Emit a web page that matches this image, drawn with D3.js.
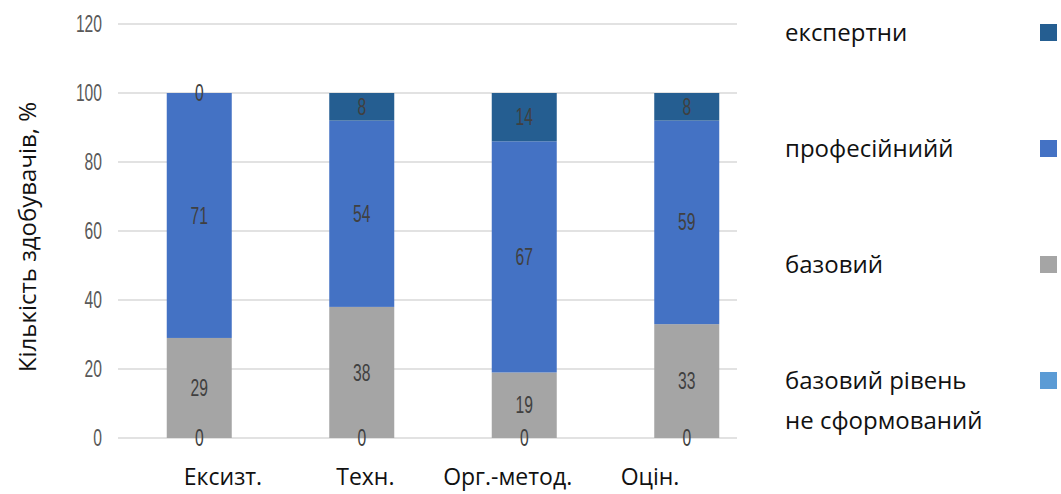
<!DOCTYPE html>
<html>
<head>
<meta charset="utf-8">
<script src="https://cdn.jsdelivr.net/npm/d3@7"></script>
<style>
  html, body { margin: 0; padding: 0; background: #fff; }
  svg { display: block; }
</style>
</head>
<body>
<svg id="chart" width="1061" height="494"></svg>
<script>
// Рівні сформованості компетентності за компонентами, %
const categories = ["Ексизт.", "Техн.", "Орг.-метод.", "Оцін."];
const notFormed    = [0, 0, 0, 0];     // базовий рівень не сформований
const basic        = [29, 38, 19, 33]; // базовий
const professional = [71, 54, 67, 59]; // професійнийй
const expert       = [0, 8, 14, 8];    // експертни
const yTicks = [0, 20, 40, 60, 80, 100, 120];

const series = [
  { key: "notFormed",    name: ["базовий рівень", "не сформований"], values: notFormed,    color: "#5b9bd5" },
  { key: "basic",        name: ["базовий"],                         values: basic,        color: "#a5a5a5" },
  { key: "professional", name: ["професійнийй"],                    values: professional, color: "#4472c4" },
  { key: "expert",       name: ["експертни"],                       values: expert,       color: "#255e91" }
];

const rows = categories.map((c, i) => {
  const r = { category: c };
  series.forEach(s => { r[s.key] = s.values[i]; });
  return r;
});

const stacked = d3.stack().keys(series.map(s => s.key))(rows);

const svg = d3.select("#chart");

const x = d3.scaleBand().domain(categories).range([118, 768]).paddingInner(0.6).paddingOuter(0.3);
const y = d3.scaleLinear().domain([0, 120]).range([438, 24]);
// category captions sit on their own evenly spaced row below the plot
const xLabel = d3.scalePoint().domain(categories).range([223, 650]);

// numbers use a condensed look: regular face squeezed horizontally
const numFont = "'Liberation Sans', Arial, sans-serif";
const numSqueeze = "scale(0.68,1)";
const textFont = "'Open Sans', 'Noto Sans', sans-serif";

// gridlines + tick labels
const yAxis = d3.axisLeft(y).tickValues(yTicks).tickSize(0).tickPadding(0).tickFormat(d3.format("d"));
const gy = svg.append("g").attr("transform", "translate(102,0)").call(yAxis);
gy.select(".domain").remove();
gy.selectAll(".tick text")
  .attr("x", 0)
  .attr("transform", numSqueeze)
  .attr("font-family", numFont).attr("font-size", 23).attr("fill", "#595959");

svg.append("g").selectAll("line").data(yTicks).join("line")
  .attr("x1", 118).attr("x2", 737)
  .attr("y1", d => y(d)).attr("y2", d => y(d))
  .attr("stroke", "#d9d9d9").attr("stroke-width", 1.5);

// stacked bars
const layers = svg.append("g").selectAll("g").data(stacked).join("g")
  .attr("fill", (d, i) => series[i].color);
layers.selectAll("rect").data(d => d).join("rect")
  .attr("x", d => x(d.data.category))
  .attr("width", x.bandwidth())
  .attr("y", d => y(d[1]))
  .attr("height", d => y(d[0]) - y(d[1]));

// value labels in the middle of each segment
const labels = svg.append("g");
stacked.forEach(layer => {
  labels.selectAll(null).data(layer).join("g")
    .attr("transform", d => `translate(${x(d.data.category) + x.bandwidth() / 2},${y((d[0] + d[1]) / 2)})`)
    .append("text")
    .attr("transform", numSqueeze)
    .attr("dy", "0.35em")
    .attr("text-anchor", "middle")
    .attr("font-family", numFont).attr("font-size", 23).attr("fill", "#404040")
    .text(d => d[1] - d[0]);
});

// category captions
svg.append("g").selectAll("text").data(categories).join("text")
  .attr("x", d => xLabel(d)).attr("y", 485)
  .attr("text-anchor", "middle")
  .attr("font-family", textFont).attr("font-size", 23).attr("fill", "#111")
  .text(d => d);

// y-axis title
svg.append("text")
  .attr("transform", "translate(36,237) rotate(-90)")
  .attr("text-anchor", "middle")
  .attr("font-family", textFont).attr("font-size", 24).attr("fill", "#111")
  .text("Кількість здобувачів, %");

// legend: top entry is the top of the stack
const legendItems = series.slice().reverse();
const lg = svg.append("g").selectAll("g").data(legendItems).join("g")
  .attr("transform", (d, i) => `translate(0, ${32 + i * 116})`);
lg.append("rect")
  .attr("x", 1040).attr("y", -8).attr("width", 17).attr("height", 17)
  .attr("fill", d => d.color);
lg.append("text")
  .attr("font-family", textFont).attr("font-size", 24).attr("fill", "#111")
  .selectAll("tspan").data(d => d.name).join("tspan")
  .attr("x", 785).attr("y", (d, i) => 9 + i * 40)
  .text(d => d);
</script>
</body>
</html>
